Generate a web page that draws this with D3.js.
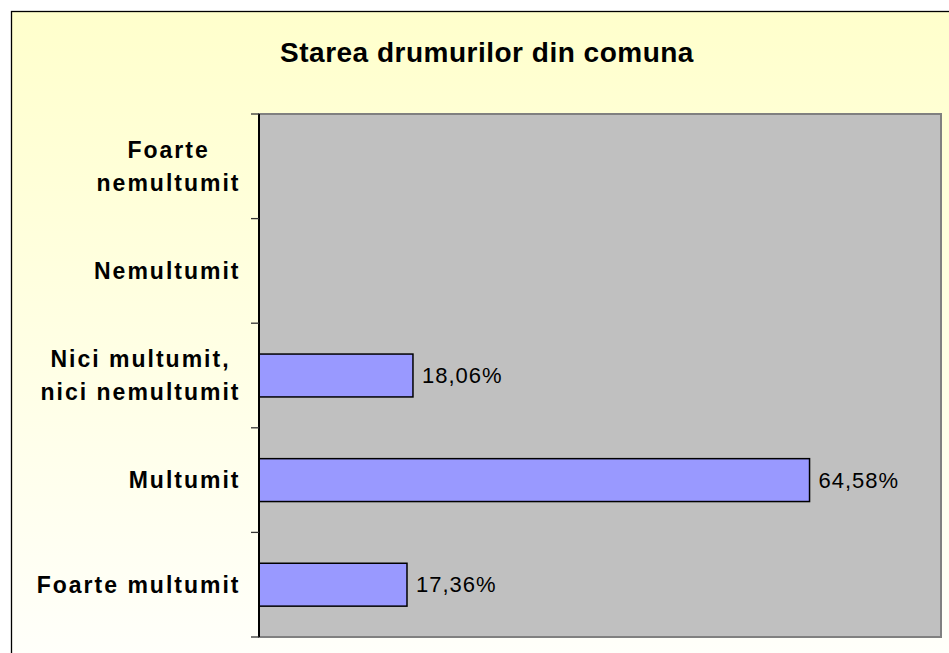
<!DOCTYPE html>
<html>
<head>
<meta charset="utf-8">
<script src="https://cdn.jsdelivr.net/npm/d3@7"></script>
<style>
  body { margin: 0; background: #fff; }
  svg { display: block; font-family: "Liberation Sans", Arial, sans-serif; }
</style>
</head>
<body>
<div id="chart"></div>
<script>
// data (top to bottom)
const categories = ['Foarte\nnemultumit', 'Nemultumit', 'Nici multumit,\nnici nemultumit', 'Multumit', 'Foarte multumit'];
const values = [null, null, 18.06, 64.58, 17.36];
const chartTitle = 'Starea drumurilor din comuna';

const width = 949, height = 653;
const plot = { left: 259, top: 114, right: 941, bottom: 637 };

const svg = d3.select('#chart').append('svg')
    .attr('width', width)
    .attr('height', height);

const defs = svg.append('defs');
const grad = defs.append('linearGradient')
    .attr('id', 'bg')
    .attr('x1', 0).attr('y1', 0).attr('x2', 0).attr('y2', 1);
grad.append('stop').attr('offset', '0%').attr('stop-color', '#ffffcc');
grad.append('stop').attr('offset', '100%').attr('stop-color', '#ffffff');

// chart area (frame runs past the window on right/bottom)
svg.append('rect')
    .attr('x', 11.5).attr('y', 11.5)
    .attr('width', width + 20).attr('height', height + 60)
    .attr('fill', 'url(#bg)')
    .attr('stroke', '#000')
    .attr('stroke-width', 1.3);

svg.append('text')
    .attr('x', 487)
    .attr('y', 62)
    .attr('text-anchor', 'middle')
    .attr('font-size', 28)
    .attr('font-weight', 'bold')
    .attr('letter-spacing', 0.5)
    .text(chartTitle);

const x = d3.scaleLinear()
    .domain([0, 80])
    .range([plot.left, plot.right]);

const y = d3.scaleBand()
    .domain(categories)
    .range([plot.top, plot.bottom])
    .paddingInner(0.59)
    .paddingOuter(0.295);

// plot area
svg.append('rect')
    .attr('x', plot.left)
    .attr('y', plot.top)
    .attr('width', plot.right - plot.left)
    .attr('height', plot.bottom - plot.top)
    .attr('fill', '#c0c0c0')
    .attr('stroke', '#808080')
    .attr('stroke-width', 2);

// bars
const rows = categories.map((c, i) => ({ cat: c, val: values[i] })).filter(d => d.val != null);

svg.selectAll('rect.bar')
    .data(rows)
    .enter()
    .append('rect')
    .attr('class', 'bar')
    .attr('x', x(0))
    .attr('y', d => y(d.cat))
    .attr('width', d => x(d.val) - x(0))
    .attr('height', y.bandwidth())
    .attr('fill', '#9999ff')
    .attr('stroke', '#000')
    .attr('stroke-width', 1.5);

svg.selectAll('text.val')
    .data(rows)
    .enter()
    .append('text')
    .attr('class', 'val')
    .attr('x', d => x(d.val) + 9)
    .attr('y', d => y(d.cat) + y.bandwidth() / 2 + 7.5)
    .attr('font-size', 22)
    .attr('letter-spacing', 1)
    .text(d => d.val.toFixed(2).replace('.', ',') + '%');

// category axis: line plus ticks at band boundaries
const step = y.step();
const bounds = d3.range(categories.length + 1).map(i => plot.top + i * step);

svg.append('line')
    .attr('x1', plot.left).attr('x2', plot.left)
    .attr('y1', plot.top).attr('y2', plot.bottom)
    .attr('stroke', '#000')
    .attr('stroke-width', 2);

svg.selectAll('line.tick')
    .data(bounds)
    .enter()
    .append('line')
    .attr('class', 'tick')
    .attr('x1', plot.left - 8).attr('x2', plot.left)
    .attr('y1', d => d).attr('y2', d => d)
    .attr('stroke', '#333')
    .attr('stroke-width', 1.3);

const lineGap = 33;
const labels = svg.selectAll('text.cat')
    .data(categories)
    .enter()
    .append('text')
    .attr('class', 'cat')
    .attr('font-size', 23)
    .attr('font-weight', 'bold')
    .attr('letter-spacing', 2)
    .attr('text-anchor', 'middle');

labels.each(function(d) {
    const lines = d.split('\n');
    const cy = y(d) + y.bandwidth() / 2;
    const t = d3.select(this);
    const first = cy + 8 - (lines.length - 1) * lineGap / 2;
    lines.forEach((ln, i) => {
        t.append('tspan')
            .attr('y', first + i * lineGap)
            .text(ln);
    });
});

// right-align the block of lines, lines centered to each other
labels.each(function() {
    const t = d3.select(this);
    let w = 0;
    t.selectAll('tspan').each(function() { w = Math.max(w, this.getComputedTextLength()); });
    const cx = 240.5 - w / 2;
    t.selectAll('tspan').attr('x', cx);
});
</script>
</body>
</html>
